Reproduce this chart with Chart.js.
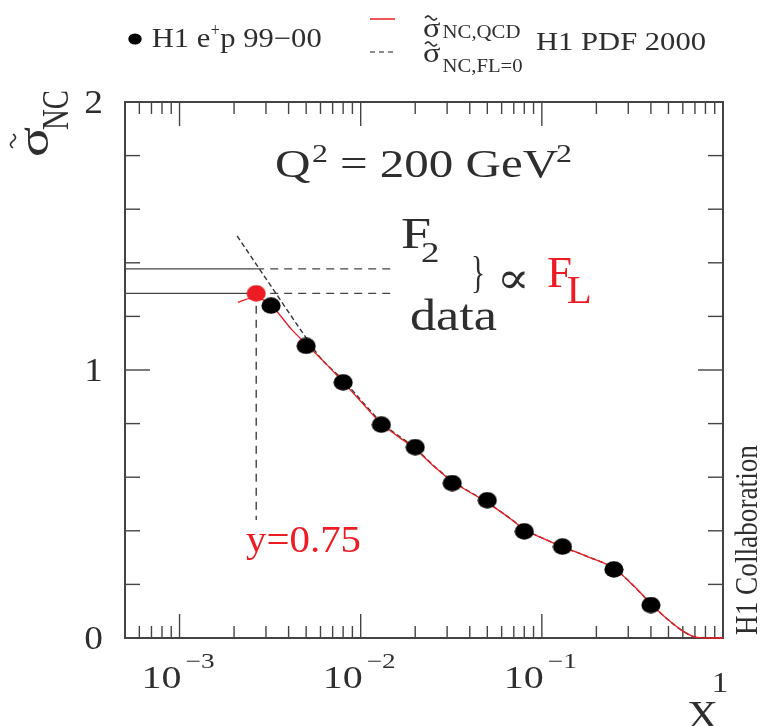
<!DOCTYPE html>
<html>
<head>
<meta charset="utf-8">
<script src="https://cdn.jsdelivr.net/npm/chart.js@4"></script>
<style>
  html, body { margin: 0; padding: 0; background: #fff; }
  canvas { display: block; }
</style>
</head>
<body>
<canvas id="grafico" width="763" height="726"></canvas>
<script>
// valores (Q2 = 200 GeV2)
const dataX = [0.0032, 0.005, 0.008, 0.013, 0.02, 0.032, 0.05, 0.08, 0.13, 0.25, 0.40];
const dataY = [1.240, 1.090, 0.954, 0.796, 0.712, 0.578, 0.514, 0.398, 0.341, 0.256, 0.123];

// ponto y = 0.75 (vermelho)
const redX = [0.00265];
const redY = [1.286];

// curva QCD (H1 PDF 2000)
const qcdX = [0.0021, 0.0025, 0.0029, 0.0033, 0.0042, 0.005, 0.0065, 0.008, 0.0102, 0.013, 0.02, 0.0254, 0.032, 0.05, 0.067, 0.08, 0.103, 0.13, 0.18, 0.25, 0.324, 0.4, 0.5, 0.61, 0.72, 0.85, 1.0];
const qcdY = [1.252, 1.268, 1.262, 1.232, 1.148, 1.097, 1.020, 0.955, 0.877, 0.800, 0.705, 0.640, 0.585, 0.505, 0.445, 0.405, 0.370, 0.340, 0.303, 0.260, 0.192, 0.128, 0.067, 0.023, 0.002, 0, 0];

// curva com FL = 0
const fl0X = [0.00208, 0.0032, 0.005, 0.006, 0.008, 0.0102, 0.013, 0.02, 0.0254, 0.032, 0.05, 0.067, 0.08, 0.103, 0.13, 0.18, 0.25, 0.324, 0.4, 0.5, 0.61, 0.72, 0.85];
const fl0Y = [1.500, 1.313, 1.120, 1.045, 0.962, 0.882, 0.805, 0.708, 0.642, 0.587, 0.506, 0.446, 0.406, 0.370, 0.340, 0.303, 0.260, 0.192, 0.128, 0.067, 0.023, 0.002, 0];

// níveis F2 e dado em y = 0.75
const levelF2 = 1.377;
const levelData = 1.286;
const levelEndX = 0.0149;
const vlineY = [1.24, 0.44];

const xTicks = [1e-3, 1e-2, 1e-1, 1];
const xTickExp = ['−3', '−2', '−1', ''];
const yTicks = [0, 1, 2];

const INK = '#2e2e2e';
const RED = 'rgb(237,28,36)';
const serif = '"Liberation Serif", "DejaVu Serif", serif';

function pts(xs, ys) { return xs.map((x, i) => ({ x: x, y: ys[i] })); }

function elipse(cor) {
  const c = document.createElement('canvas');
  c.width = 20; c.height = 17;
  const g = c.getContext('2d');
  g.fillStyle = cor;
  g.beginPath();
  g.ellipse(10, 8.5, 9.6, 8.3, 0, 0, 2 * Math.PI);
  g.fill();
  return c;
}

function medir(ctx, s, size) {
  ctx.save();
  ctx.font = size + 'px ' + serif;
  const w = ctx.measureText(s).width;
  ctx.restore();
  return w;
}

function txt(ctx, s, x, y, size, o = {}) {
  ctx.save();
  ctx.font = size + 'px ' + serif;
  ctx.fillStyle = o.color || INK;
  ctx.textBaseline = 'alphabetic';
  ctx.textAlign = 'left';
  const w = ctx.measureText(s).width;
  const sx = o.w ? o.w / w : (o.sx || 1.23);
  let x0 = x;
  if (o.align === 'right') x0 = x - w * sx;
  if (o.align === 'center') x0 = x - w * sx / 2;
  ctx.translate(x0, y);
  ctx.scale(sx, 1);
  ctx.fillText(s, 0, 0);
  ctx.restore();
  return x0 + w * sx;
}

// texto vertical (de baixo para cima), x = linha de base
function vtxt(ctx, s, x, y, size, len, sx) {
  ctx.save();
  ctx.font = size + 'px ' + serif;
  ctx.fillStyle = INK;
  const w = ctx.measureText(s).width;
  ctx.translate(x, y);
  ctx.scale(sx, len / w);
  ctx.rotate(-Math.PI / 2);
  ctx.fillText(s, 0, 0);
  ctx.restore();
}

function til(ctx, cx, cy, w, h, rot) {
  ctx.save();
  ctx.translate(cx, cy);
  if (rot) ctx.rotate(-Math.PI / 2);
  ctx.strokeStyle = INK;
  ctx.lineWidth = 1.6;
  ctx.beginPath();
  for (let i = 0; i <= 20; i++) {
    const t = i / 20;
    const px = -w / 2 + t * w;
    const py = -(h / 2) * Math.sin(2 * Math.PI * t);
    if (i === 0) ctx.moveTo(px, py); else ctx.lineTo(px, py);
  }
  ctx.stroke();
  ctx.restore();
}

const moldura = {
  id: 'moldura',
  beforeDatasetsDraw(chart) {
    const ctx = chart.ctx, xs = chart.scales.x, ys = chart.scales.y, a = chart.chartArea;
    ctx.save();
    ctx.strokeStyle = '#444';
    ctx.lineWidth = 1.4;
    const seg = (x1, y1, x2, y2) => { ctx.beginPath(); ctx.moveTo(x1, y1); ctx.lineTo(x2, y2); ctx.stroke(); };
    for (let d = -4; d <= 0; d++) {
      for (let m = 1; m <= 9; m++) {
        const v = m * Math.pow(10, d);
        if (v < xs.min * 0.999 || v > xs.max * 1.001) continue;
        const px = xs.getPixelForValue(v);
        const len = m === 1 ? 24 : 12;
        seg(px, a.bottom, px, a.bottom - len);
        seg(px, a.top, px, a.top + len);
      }
    }
    for (let i = 0; i <= 10; i++) {
      const v = i * 0.2;
      const py = ys.getPixelForValue(v);
      const len = i % 5 === 0 ? 25 : 15;
      seg(a.left, py, a.left + len, py);
      seg(a.right, py, a.right - len, py);
    }
    ctx.lineWidth = 2;
    ctx.strokeRect(a.left, a.top, a.right - a.left, a.bottom - a.top);
    ctx.restore();
  },
  afterDraw(chart) {
    const ctx = chart.ctx, xs = chart.scales.x, ys = chart.scales.y;

    // rótulos dos eixos
    xTicks.forEach((v, i) => {
      const px = xs.getPixelForValue(v);
      if (xTickExp[i]) {
        txt(ctx, '10', px + 2, 688, 32, { w: 40, align: 'right' });
        txt(ctx, xTickExp[i], px + 6, 668, 21, { w: 29 });
      } else {
        txt(ctx, '1', px - 3, 692, 30, { align: 'center', sx: 1.1 });
      }
    });
    yTicks.forEach(v => {
      txt(ctx, String(v), 103, ys.getPixelForValue(v) + 11, 34, { align: 'right', sx: 1.1 });
    });
    txt(ctx, 'X', 687, 728, 40, { w: 31 });

    // título do eixo y
    vtxt(ctx, 'σ', 48, 157, 40, 30, 1.1);
    til(ctx, 13, 141, 14, 5, true);
    vtxt(ctx, 'NC', 68, 130, 28, 40, 1.35);

    vtxt(ctx, 'H1 Collaboration', 757, 635, 26, 190, 1.25);

    // legenda
    ctx.save();
    ctx.fillStyle = '#000';
    ctx.beginPath(); ctx.ellipse(135, 39, 6.7, 5.6, 0, 0, 2 * Math.PI); ctx.fill();
    ctx.strokeStyle = RED; ctx.lineWidth = 1.5;
    ctx.beginPath(); ctx.moveTo(370, 19); ctx.lineTo(395, 19); ctx.stroke();
    ctx.strokeStyle = '#666'; ctx.setLineDash([5, 4]);
    ctx.beginPath(); ctx.moveTo(370, 52); ctx.lineTo(395, 52); ctx.stroke();
    ctx.restore();
    const s1 = 'H1 e', s2 = 'p 99−00';
    const esc = (321.7 - 151.7 - 10) / (medir(ctx, s1, 27) + medir(ctx, s2, 27));
    let x = txt(ctx, s1, 151.7, 47, 27, { sx: esc });
    txt(ctx, '+', x + 0.5, 36, 18, { w: 9 });
    txt(ctx, s2, x + 10, 47, 27, { sx: esc });

    txt(ctx, 'σ', 423, 37, 27, { sx: 1.2 });
    til(ctx, 431, 18, 12, 4);
    txt(ctx, 'NC,QCD', 442.5, 38, 19, { w: 78 });
    txt(ctx, 'σ', 423, 62, 27, { sx: 1.2 });
    til(ctx, 431, 44, 12, 4);
    txt(ctx, 'NC,FL=0', 442.5, 71.5, 19, { w: 80 });
    txt(ctx, 'H1 PDF 2000', 536, 50, 25, { w: 170 });

    // anotações
    txt(ctx, 'Q', 275, 177, 40);
    txt(ctx, '2', 312, 162, 26);
    txt(ctx, '= 200 GeV', 340, 177, 40, { w: 218 });
    txt(ctx, '2', 556, 162, 26);

    txt(ctx, 'F', 401, 248, 44);
    txt(ctx, '2', 421, 262, 30);
    txt(ctx, '}', 471, 287, 44, { w: 14 });
    txt(ctx, '∝', 496.7, 292.5, 44, { w: 33 });
    txt(ctx, 'F', 547, 287, 44, { color: RED, w: 25 });
    txt(ctx, 'L', 566.7, 303, 39, { color: RED, w: 25 });
    txt(ctx, 'data', 410, 330, 44, { w: 87 });

    txt(ctx, 'y=0.75', 246, 552, 37, { color: RED, w: 115 });
  }
};

const ctx = document.getElementById('grafico').getContext('2d');
new Chart(ctx, {
  type: 'scatter',
  data: {
    datasets: [
      {
        label: 'H1 e+p 99-00',
        data: pts(dataX, dataY),
        pointStyle: elipse('#000'),
        pointRadius: 9,
        order: 0
      },
      {
        label: 'y=0.75',
        data: pts(redX, redY),
        pointStyle: elipse(RED),
        pointRadius: 9,
        order: 1
      },
      {
        label: 'sigma NC,QCD',
        data: pts(qcdX, qcdY),
        showLine: true,
        borderColor: RED,
        borderWidth: 1.3,
        pointRadius: 0,
        cubicInterpolationMode: 'monotone',
        clip: false,
        order: 2
      },
      {
        label: 'sigma NC,FL=0',
        data: pts(fl0X, fl0Y),
        showLine: true,
        borderColor: '#333',
        borderWidth: 1.4,
        borderDash: [5, 3],
        pointRadius: 0,
        cubicInterpolationMode: 'monotone',
        clip: false,
        order: 3
      },
      {
        label: 'F2 nivel',
        data: [{ x: 5e-4, y: levelF2 }, { x: redX[0], y: levelF2 }],
        showLine: true, borderColor: '#444', borderWidth: 1.3, pointRadius: 0, order: 4
      },
      {
        label: 'dado nivel',
        data: [{ x: 5e-4, y: levelData }, { x: redX[0], y: levelData }],
        showLine: true, borderColor: '#444', borderWidth: 1.3, pointRadius: 0, order: 4
      },
      {
        label: 'F2 tracejado',
        data: [{ x: redX[0], y: levelF2 }, { x: levelEndX, y: levelF2 }],
        showLine: true, borderColor: '#444', borderWidth: 1.3, borderDash: [8, 6], pointRadius: 0, order: 4
      },
      {
        label: 'dado tracejado',
        data: [{ x: redX[0], y: levelData }, { x: levelEndX, y: levelData }],
        showLine: true, borderColor: '#444', borderWidth: 1.3, borderDash: [8, 6], pointRadius: 0, order: 4
      },
      {
        label: 'y=0.75 vertical',
        data: [{ x: redX[0], y: vlineY[0] }, { x: redX[0], y: vlineY[1] }],
        showLine: true, borderColor: '#333', borderWidth: 1.3, borderDash: [8, 6], pointRadius: 0, order: 4
      }
    ]
  },
  options: {
    responsive: false,
    animation: false,
    devicePixelRatio: 1,
    layout: { padding: { left: 125, top: 102, right: 40, bottom: 88 } },
    plugins: {
      legend: { display: false },
      tooltip: { enabled: false }
    },
    scales: {
      x: { type: 'logarithmic', min: 5e-4, max: 1, display: false },
      y: { type: 'linear', min: 0, max: 2, display: false }
    }
  },
  plugins: [moldura]
});
</script>
</body>
</html>
